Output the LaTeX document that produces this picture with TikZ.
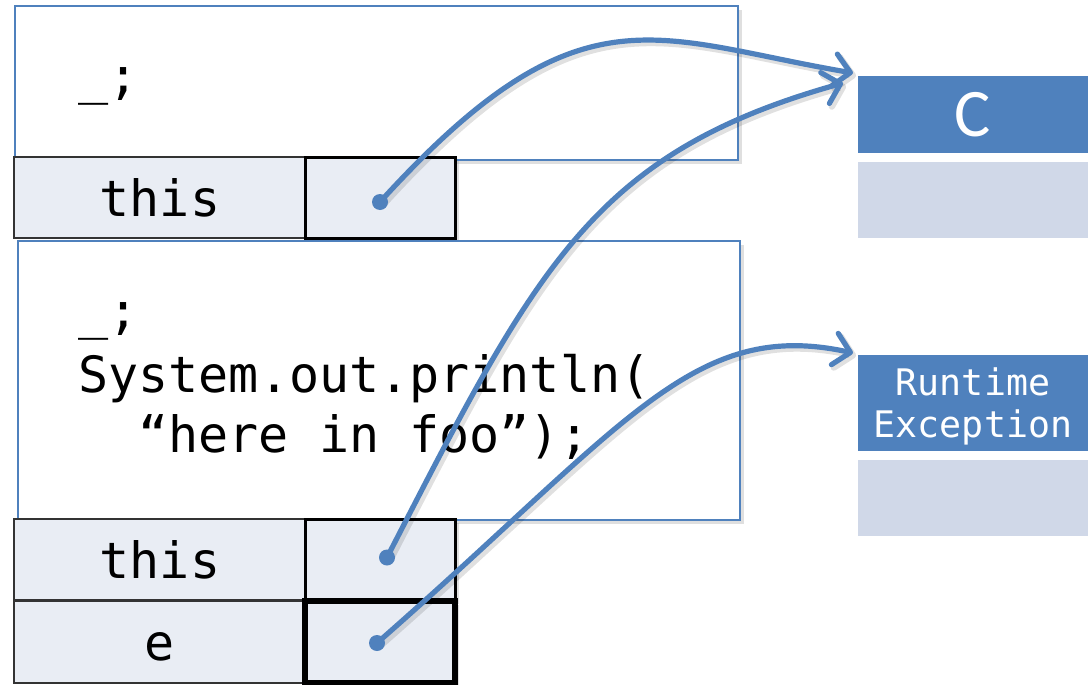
\documentclass[tikz,border=0pt]{standalone}
\usepackage{fontspec}
\setmonofont{DejaVu Sans Mono}
\newfontfamily\headfont{Carlito}
\usetikzlibrary{arrows.meta,shadows,calc}
\definecolor{accent}{HTML}{4F81BD}
\definecolor{cellfill}{HTML}{E9EDF4}
\definecolor{bodyfill}{HTML}{D0D8E8}

\begin{document}
\begin{tikzpicture}[x=0.5pt,y=-0.5pt,
  box/.style={inner sep=0pt, outer sep=0pt, anchor=north west},
  soft/.style={drop shadow={opacity=0.25, shadow xshift=2pt, shadow yshift=-2pt}},
  frame/.style={box, draw=accent, line width=1.4pt, fill=white, soft},
  namecell/.style={box, draw=black!80, line width=0.6pt, fill=cellfill,
    minimum width=145.5pt, minimum height=40.5pt},
  valcell/.style={box, draw=black, line width=1.5pt, fill=cellfill, soft,
    minimum width=75pt, minimum height=40.5pt},
  code/.style={anchor=base west, inner sep=0pt, font=\ttfamily\fontsize{25}{30}\selectfont},
  celltext/.style={anchor=base, inner sep=0pt, font=\ttfamily\fontsize{25}{30}\selectfont},
  head/.style={box, fill=accent, minimum width=115pt},
  body/.style={box, fill=bodyfill, minimum width=115pt, minimum height=38pt},
  ptr/.style={draw=accent, line width=2.6pt, line cap=round, line join=round,
    -{Straight Barb[length=8pt, width=16pt, line cap=round, line join=round]},
    preaction={draw=black, opacity=0.12, line width=3.2pt,
      transform canvas={shift={(1.5pt,-1.5pt)}}}},
  dot/.style={fill=accent}
]
\useasboundingbox (0,0) rectangle (1092,685);

% upper stack frame
\node[frame, minimum width=361.5pt, minimum height=77pt] (f1) at (15,6) {};
\node[code] (c1) at (78,93) {\_;};
\node[namecell] (l1) at (14,157) {};
\node[valcell] (v1) at (305,157) {};
\node[celltext] (t1) at (160,216) {this};

% lower stack frame
\node[frame, minimum width=361pt, minimum height=139.5pt] (f2) at (18,241) {};
\node[code] (c2) at (78,328) {\_;};
\node[code] (c3) at (78,392) {System.out.println(};
\node[code] (c4) at (138,452) {“here in foo”);};
\node[namecell] (l2) at (14,519) {};
\node[valcell] (v2) at (305,519) {};
\node[celltext] (t2) at (160,578) {this};
\node[namecell, minimum height=41pt] (l3) at (14,601) {};
\node[valcell, line width=3pt, minimum height=41pt] (v3) at (305,601) {};
\node[celltext] (t3) at (160,660) {e};

% heap objects
\node[head, minimum height=38.5pt] (ch) at (858,76) {};
\node[text=white, font=\headfont\fontsize{34}{40}\selectfont] (ct) at (ch.center) {C};
\node[body] (cb) at (858,162) {};

\node[head, minimum height=48pt] (rh) at (858,355) {};
\node[text=white, anchor=base, inner sep=0pt, font=\ttfamily\fontsize{18.3}{22}\selectfont] (rt1) at (973,395) {Runtime};
\node[text=white, anchor=base, inner sep=0pt, font=\ttfamily\fontsize{18.3}{22}\selectfont] (rt2) at (973,437) {Exception};
\node[body] (rb) at (858,460) {};

% references
\coordinate (d1) at ($(v1.center)+(0,4.5)$);
\coordinate (d2) at ($(v2.center)+(7,-2)$);
\coordinate (d3) at ($(v3.center)+(-3,1)$);
\coordinate (e1) at ($(ch.north west)+(-5,-3)$);
\coordinate (e2) at ($(ch.north west)+(-15,7)$);
\coordinate (e3) at ($(rh.north west)+(-5,-2)$);

\draw[ptr] (d1) .. controls (580,-18) and (653,39) .. (e1);
\draw[ptr] (d2) .. controls (537,266) and (593,153) .. (e2);
\draw[ptr] (d3) .. controls (627,424) and (693,318) .. (e3);
\fill[dot] (d1) circle (4pt);
\fill[dot] (d2) circle (4pt);
\fill[dot] (d3) circle (4pt);
\end{tikzpicture}
\end{document}
